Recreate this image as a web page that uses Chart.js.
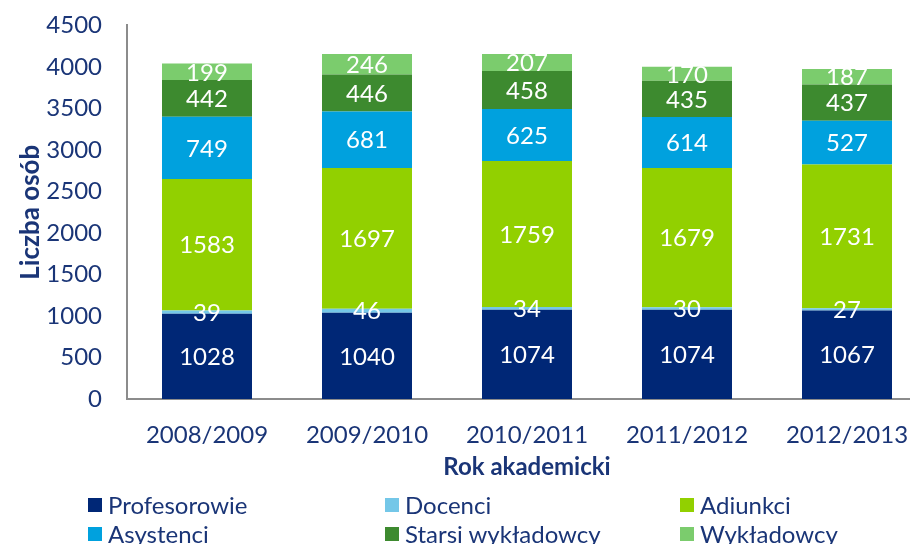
<!DOCTYPE html>
<html>
<head>
<meta charset="utf-8">
<script src="https://cdn.jsdelivr.net/npm/chart.js@4.4.1/dist/chart.umd.min.js"></script>
<style>
  html, body { margin: 0; padding: 0; background: #ffffff; }
  #wrap { position: relative; width: 910px; height: 544px; overflow: hidden; background: #fff; }
  #c { position: absolute; left: 0; top: -14px; }
  #legend { position: absolute; left: 0; top: 0; width: 910px; height: 544px; pointer-events: none;
            font-family: Lato, "Open Sans", sans-serif; font-size: 24px; color: #1a3577; }
  .li { position: absolute; white-space: nowrap; line-height: 28px; height: 28px; }
  .sw { position: absolute; left: 0; top: 7px; width: 14px; height: 14px; }
  .tx { position: absolute; left: 20px; top: 0; }
</style>
</head>
<body>
<div id="wrap">
  <canvas id="c" width="950" height="498"></canvas>
  <div id="legend"></div>
</div>
<script>
const categories = ["2008/2009", "2009/2010", "2010/2011", "2011/2012", "2012/2013"];
const profesorowie = [1028, 1040, 1074, 1074, 1067];
const docenci = [39, 46, 34, 30, 27];
const adiunkci = [1583, 1697, 1759, 1679, 1731];
const asystenci = [749, 681, 625, 614, 527];
const starsiWykladowcy = [442, 446, 458, 435, 437];
const wykladowcy = [199, 246, 207, 170, 187];
const seriesNames = ["Profesorowie", "Docenci", "Adiunkci", "Asystenci", "Starsi wykładowcy", "Wykładowcy"];
const seriesColors = ["#002776", "#74C7E8", "#92D000", "#00A1DE", "#3D8A2F", "#7BCC6D"];
const yTicks = { min: 0, max: 4500, step: 500 };

const TEXT = "#1a3577";
const FONT = "Lato, 'Open Sans', sans-serif";

const seriesData = [profesorowie, docenci, adiunkci, asystenci, starsiWykladowcy, wykladowcy];

const labelPlugin = {
  id: "segLabels",
  afterDatasetsDraw(chart) {
    const ctx = chart.ctx;
    ctx.save();
    ctx.fillStyle = "#ffffff";
    ctx.font = "24px " + FONT;
    ctx.textAlign = "center";
    ctx.textBaseline = "middle";
    chart.data.datasets.forEach((ds, i) => {
      const meta = chart.getDatasetMeta(i);
      meta.data.forEach((el, j) => {
        const y = (el.y + el.base) / 2;
        ctx.fillText(String(ds.data[j]), el.x, y + 1);
      });
    });
    ctx.restore();
  }
};

const chart = new Chart(document.getElementById("c"), {
  type: "bar",
  data: {
    labels: categories,
    datasets: seriesNames.map((n, i) => ({
      label: n,
      data: seriesData[i],
      backgroundColor: seriesColors[i],
      borderWidth: 0,
      barPercentage: 0.5625,
      categoryPercentage: 1.0
    }))
  },
  options: {
    responsive: false,
    animation: false,
    devicePixelRatio: 1,
    layout: { padding: { top: 10, right: 23, left: 0, bottom: 0 } },
    plugins: { legend: { display: false }, tooltip: { enabled: false } },
    scales: {
      x: {
        stacked: true,
        grid: { display: false, drawTicks: false },
        border: { display: true, color: "#8c8c8c", width: 2 },
        ticks: { color: TEXT, font: { family: FONT, size: 24 }, padding: 22, maxRotation: 0 },
        title: { display: true, text: "Rok akademicki", color: TEXT,
                 font: { family: FONT, size: 24, weight: "bold" }, padding: { top: 4, bottom: 2 } },
        afterFit(s) { s.height = 85; }
      },
      y: {
        stacked: true,
        min: yTicks.min, max: yTicks.max,
        grid: { display: false, drawTicks: false },
        border: { display: true, color: "#8c8c8c", width: 2 },
        ticks: { stepSize: yTicks.step, color: TEXT, font: { family: FONT, size: 24 }, padding: 25,
                 callback: (v) => String(v) },
        title: { display: true, text: "Liczba osób", color: TEXT,
                 font: { family: FONT, size: 26, weight: "bold" }, padding: { top: 15, bottom: 0 } },
        afterFit(s) { s.width = 127; }
      }
    }
  },
  plugins: [labelPlugin]
});

// Legend (3 columns, 2 rows), built from series names/colours
const legend = document.getElementById("legend");
const colX = [88, 385, 680];
const rowY = [491, 520];
seriesNames.forEach((n, i) => {
  const d = document.createElement("div");
  d.className = "li";
  d.style.left = colX[i % 3] + "px";
  d.style.top = rowY[Math.floor(i / 3)] + "px";
  const sw = document.createElement("span");
  sw.className = "sw";
  sw.style.background = seriesColors[i];
  const tx = document.createElement("span");
  tx.className = "tx";
  tx.textContent = n;
  d.appendChild(sw); d.appendChild(tx);
  legend.appendChild(d);
});
</script>
</body>
</html>
